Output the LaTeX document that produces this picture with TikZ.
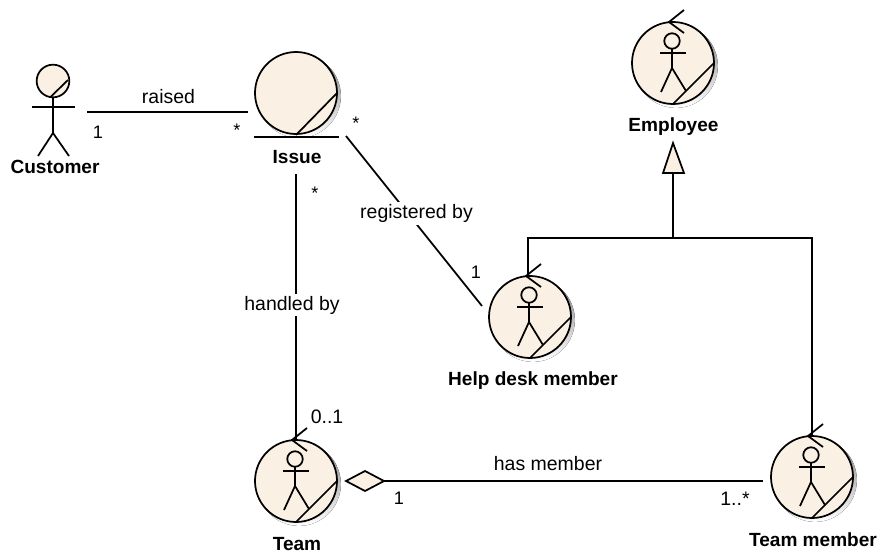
\documentclass[tikz,border=0pt]{standalone}
\usepackage{fontspec}
\setmainfont{Liberation Sans}
\definecolor{cream}{HTML}{FAF0E3}
\definecolor{shade}{HTML}{B4B4B4}
\tikzset{
  x=0.75pt,y=-0.75pt,
  line/.style={draw=black,line width=1.3pt},
  body/.style={circle,draw=black,line width=1.3pt,fill=cream,minimum size=61.5pt,inner sep=0pt},
  txt/.style={font=\fontsize{14.6}{16}\selectfont,inner sep=0pt,text=black},
  mult/.style={font=\fontsize{13.6}{15}\selectfont,inner sep=0pt,text=black},
  btxt/.style={font=\fontsize{14.3}{16}\selectfont\bfseries,inner sep=0pt,text=black},
  lab/.style={txt,fill=white,inner ysep=0pt,inner xsep=1pt,minimum height=17pt},
  pt/.style={inner sep=0pt,minimum size=0pt},
}
% circle with stick figure and control-tick
\newcommand{\actorbody}[3]{%
  \fill[shade] (#2+3,#3+3) circle[radius=31.4pt];
  \node[body] (#1) at (#2,#3) {};
  \draw[line] (#2,#3+41) -- (#2+41,#3);
  \draw[line] (#2-1,#3-22) circle[radius=5.8pt];
  \draw[line] (#2-13,#3-10) -- (#2+13,#3-10);
  \draw[line] (#2-1,#3-14.5) -- (#2-1,#3+5);
  \draw[line] (#2-12,#3+29) -- (#2-1,#3+5) -- (#2+13,#3+28);
  \draw[line] (#2+11,#3-53) -- (#2-4,#3-41) -- (#2+11,#3-30);
  \coordinate (#1tip) at (#2-2,#3-41);
}
\begin{document}
\begin{tikzpicture}
\useasboundingbox (0,0) rectangle (878,553);
% Customer
\node[circle,draw=black,line width=1.3pt,fill=cream,minimum size=24.5pt,inner sep=0pt] (customer) at (53,81) {};
\draw[line] (50.5,97) -- (68,80);
\draw[line] (32,106.7) -- (75,106.7);
\draw[line] (53,97) -- (53,133);
\draw[line] (38,156) -- (53,133) -- (69,156);
\node[btxt] (customerlabel) at (55,167) {Customer};
% Issue
\fill[shade] (299,96) circle[radius=31.4pt];
\node[body] (issue) at (296,93) {};
\draw[line] (296,135) -- (337,93);
\draw[line] (254,137) -- (339,137);
\node[btxt] (issuelabel) at (297,157) {Issue};
% actors
\actorbody{employee}{673}{63}
\node[btxt] (employeelabel) at (673.5,127) {Employee};
\actorbody{helpdesk}{530}{317}
\node[btxt] (helpdesklabel) at (533,381) {Help desk member};
\actorbody{team}{296}{481}
\node[btxt] (teamlabel) at (297,544) {Team};
\actorbody{teammember}{812}{477}
\node[btxt] (teammemberlabel) at (813,540) {Team member};
% free ends
\coordinate (raisedA) at (87,112);
\coordinate (raisedB) at (248,112);
\coordinate (regA) at (346,136);
\coordinate (regB) at (482,306);
\coordinate (handA) at (296,174);
\node[pt] (triapex) at (673,143) {};
\node[pt] (tribase) at (673,173) {};
\coordinate (split) at (673,238);
\coordinate (hasB) at (763,481);
\node[pt] (diamondL) at (346,481) {};
\node[pt] (diamondR) at (384,481) {};
% connectors
\draw[line] (raisedA) -- (raisedB);
\draw[line] (regA) -- (regB);
\draw[line] (handA) -- (team.north);
\draw[line] (diamondR) -- (hasB);
\draw[line] (tribase) -- (split);
\draw[line] (split) -| (helpdesktip);
\draw[line] (split) -| (teammember.north);
% heads
\draw[line,fill=cream] (triapex.center) -- (663,173) -- (684,173) -- cycle;
\draw[line,fill=cream] (diamondL.center) -- (365,471) -- (diamondR.center) -- (365,491) -- cycle;
% labels
\node[txt] (l1) at (168.5,97) {raised};
\node[mult] (m1) at (98,132) {1};
\node[mult] (m2) at (237,130) {*};
\node[mult] (m3) at (356,123) {*};
\node[lab] (l2) at (416.5,213.5) {registered by};
\node[mult] (m4) at (476,272) {1};
\node[mult] (m5) at (315,193) {*};
\node[lab] (l3) at (292,305) {handled by};
\node[txt] (m6) at (327,417) {0..1};
\node[txt] (l4) at (548,464) {has member};
\node[mult] (m7) at (399,498) {1};
\node[txt] (m8) at (735,499) {1..*};
\end{tikzpicture}
\end{document}
